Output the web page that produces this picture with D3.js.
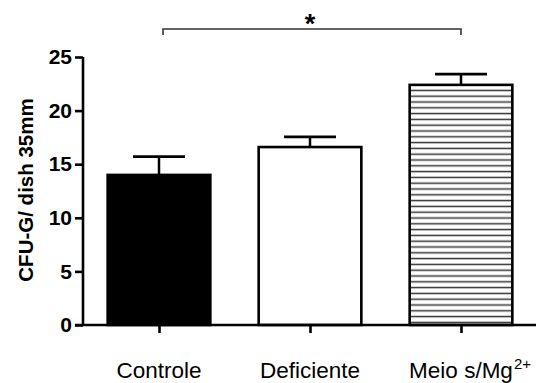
<!DOCTYPE html>
<html>
<head>
<meta charset="utf-8">
<script src="https://cdn.jsdelivr.net/npm/d3@7"></script>
<style>
html,body{margin:0;padding:0;background:#fff;}
svg{display:block;}
</style>
</head>
<body>
<svg id="chart" width="536" height="383"></svg>
<script>
const categories = ["Controle", "Deficiente", "Meio s/Mg"];
const superscripts = ["", "", "2+"];
const means = [14.0, 16.6, 22.4];
const errors = [1.7, 0.95, 1.0];
const fills = ["solid", "white", "hatch"];
const yTicks = [0, 5, 10, 15, 20, 25];
const yLabel = "CFU-G/ dish 35mm";
const sigPair = [0, 2];
const sigLabel = "*";

const svg = d3.select("#chart");
const defs = svg.append("defs");
const pat = defs.append("pattern")
  .attr("id", "hatch").attr("patternUnits", "userSpaceOnUse")
  .attr("width", 10).attr("height", 5.8).attr("y", 0);
pat.append("rect").attr("width", 10).attr("height", 5.8).attr("fill", "#fff");
pat.append("line").attr("x1", 0).attr("x2", 10).attr("y1", 3.4).attr("y2", 3.4)
  .attr("stroke", "#333").attr("stroke-width", 1.5);

const y = d3.scaleLinear().domain([0, 25]).range([325, 57]);
const x = d3.scalePoint().domain(categories).range([159, 461]);
const bw = x.step() * 0.68;
const axisX = 83;

const font = "'Liberation Sans', Arial, Helvetica, sans-serif";

// bars
categories.forEach((c, i) => {
  const cx = x(c);
  const fill = fills[i] === "solid" ? "#000" : fills[i] === "white" ? "#fff" : "url(#hatch)";
  svg.append("line").attr("x1", cx).attr("x2", cx)
    .attr("y1", y(means[i])).attr("y2", y(means[i] + errors[i]))
    .attr("stroke", "#000").attr("stroke-width", 2.5);
  svg.append("line").attr("x1", cx - 26).attr("x2", cx + 26)
    .attr("y1", y(means[i] + errors[i])).attr("y2", y(means[i] + errors[i]))
    .attr("stroke", "#000").attr("stroke-width", 2.8);
  svg.append("rect")
    .attr("x", cx - bw / 2).attr("y", y(means[i]))
    .attr("width", bw).attr("height", y(0) - y(means[i]))
    .attr("fill", fill).attr("stroke", "#000").attr("stroke-width", 2.6);
});

// y axis
const yAxis = d3.axisLeft(y).tickValues(yTicks).tickSize(8).tickPadding(3).tickFormat(d3.format("d"));
const gy = svg.append("g").attr("transform", `translate(${axisX},0)`).call(yAxis);
gy.select(".domain").attr("stroke", "#000").attr("stroke-width", 2.6)
  .attr("d", `M0,${y(25)}V${y(0)}`);
gy.selectAll(".tick line").attr("stroke", "#000").attr("stroke-width", 2.6);
gy.selectAll(".tick text").attr("font-family", font).attr("font-weight", "bold")
  .attr("font-size", 21).attr("fill", "#000");

// x axis
const xAxis = d3.axisBottom(x).tickSize(8).tickFormat("");
const gx = svg.append("g").attr("transform", `translate(0,${y(0)})`).call(xAxis);
gx.select(".domain").attr("stroke", "#000").attr("stroke-width", 2.6)
  .attr("d", `M${axisX - 8},0H536`);
gx.selectAll(".tick line").attr("stroke", "#000").attr("stroke-width", 2.6);

// category labels
categories.forEach((c, i) => {
  const t = svg.append("text")
    .attr("x", x(c)).attr("y", 378)
    .attr("text-anchor", "middle")
    .attr("font-family", font).attr("font-size", 22.5).attr("fill", "#000")
    .text(c);
  if (superscripts[i]) {
    const w = t.node().getComputedTextLength();
    svg.append("text")
      .attr("x", x(c) + w / 2 + 1).attr("y", 369)
      .attr("font-family", font).attr("font-size", 15).attr("fill", "#000")
      .text(superscripts[i]);
  }
});

// y label
svg.append("text")
  .attr("transform", `translate(33,190) rotate(-90)`)
  .attr("text-anchor", "middle")
  .attr("font-family", font).attr("font-weight", "bold").attr("font-size", 20.5)
  .attr("fill", "#000")
  .text(yLabel);

// significance bracket
const bx1 = x(categories[sigPair[0]]) + 4, bx2 = x(categories[sigPair[1]]);
const by = 29;
svg.append("path")
  .attr("d", `M${bx1},${by + 6}V${by}H${bx2}V${by + 6}`)
  .attr("fill", "none").attr("stroke", "#333").attr("stroke-width", 1.6);
svg.append("text")
  .attr("x", (bx1 + bx2) / 2 - 2).attr("y", 33)
  .attr("text-anchor", "middle")
  .attr("font-family", font).attr("font-weight", "bold").attr("font-size", 27)
  .attr("fill", "#000")
  .text(sigLabel);
</script>
</body>
</html>
